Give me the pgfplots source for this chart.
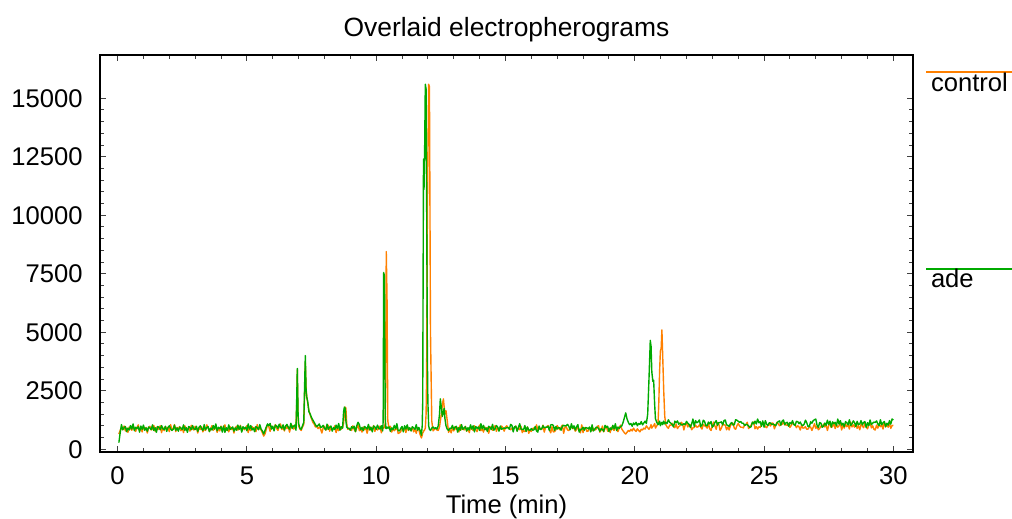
\documentclass[border=0pt]{standalone}
\usepackage{pgfplots}
\usepackage{pgfplotstable}
\pgfplotsset{compat=1.18}
\usepackage{fontspec}
\setmainfont{Liberation Sans}
\definecolor{ctrl}{rgb}{1,0.5,0}
\definecolor{adec}{rgb}{0,0.667,0}
\pgfplotstableread{
t c a
0.05 650 280
0.10 800 700
0.15 930 1050
0.20 830 830
0.25 990 920
0.30 780 970
0.35 900 750
0.40 720 900
0.45 950 820
0.50 880 1010
0.55 810 860
0.60 1010 1080
0.65 850 790
0.70 760 940
0.75 920 880
0.80 1040 960
0.85 800 730
0.90 890 990
0.95 740 850
1.00 960 1030
1.05 840 810
1.10 930 910
1.15 690 770
1.20 910 950
1.25 980 900
1.30 820 840
1.35 860 1040
1.40 1020 800
1.45 770 920
1.50 940 720
1.55 830 970
1.60 890 930
1.65 1000 830
1.70 710 1010
1.75 920 870
1.80 790 840
1.85 970 980
1.90 850 760
1.95 930 930
2.00 750 1000
2.05 1050 870
2.10 840 800
2.15 840 850
2.20 1050 1030
2.25 750 810
2.30 930 910
2.35 850 770
2.40 970 950
2.45 790 900
2.50 920 840
2.55 710 1040
2.60 1000 800
2.65 890 920
2.70 830 720
2.75 940 970
2.80 770 930
2.85 1020 830
2.90 860 1010
2.95 820 870
3.00 980 840
3.05 910 980
3.10 690 760
3.15 930 930
3.20 840 1000
3.25 960 870
3.30 740 800
3.35 890 1050
3.40 800 830
3.45 1040 920
3.50 920 970
3.55 760 750
3.60 850 900
3.65 1010 820
3.70 810 1010
3.75 880 860
3.80 950 1080
3.85 720 790
3.90 900 940
3.95 780 880
4.00 990 960
4.05 830 730
4.10 930 990
4.15 1040 720
4.20 800 920
4.25 890 800
4.30 740 1040
4.35 960 840
4.40 840 900
4.45 930 950
4.50 690 770
4.55 910 910
4.60 980 810
4.65 820 1030
4.70 860 850
4.75 1020 990
4.80 770 730
4.85 940 960
4.90 830 880
4.95 890 940
5.00 1000 790
5.05 710 1080
5.10 920 860
5.15 790 1010
5.20 970 820
5.25 850 900
5.30 930 750
5.35 750 970
5.40 1050 920
5.45 840 830
5.50 930 1050
5.55 820 860
5.60 700 780
5.65 560 650
5.70 650 800
5.75 850 950
5.80 1050 1080
5.85 960 1000
5.90 760 1100
5.95 990 860
6.00 920 980
6.05 850 780
6.10 1050 1030
6.15 890 990
6.20 800 890
6.25 960 1070
6.30 1080 930
6.35 840 900
6.40 930 1040
6.45 780 820
6.50 1000 990
6.55 880 1060
6.60 970 930
6.65 730 860
6.70 950 1110
6.75 1020 890
6.80 860 980
6.85 900 1030
6.90 1060 810
6.93 2000 2300
6.95 3400 3450
6.98 1400 1500
7.00 1000 1100
7.05 860 900
7.10 800 850
7.15 950 1000
7.20 1050 1150
7.23 2200 2600
7.26 3700 4000
7.29 2600 2500
7.32 2200 2200
7.35 2000 2050
7.40 1650 1600
7.45 1450 1500
7.50 1300 1350
7.55 1150 1250
7.60 1080 1150
7.65 950 1050
7.70 1000 960
7.75 880 1020
7.80 950 1080
7.85 860 930
7.90 690 950
7.95 910 1020
8.00 980 890
8.05 820 820
8.10 860 1070
8.15 1020 850
8.20 770 940
8.25 940 990
8.30 830 770
8.35 890 920
8.40 1000 840
8.45 710 1030
8.50 920 880
8.55 790 1100
8.60 970 810
8.65 850 960
8.70 930 900
8.74 1100 1600
8.77 1500 1800
8.80 1800 1750
8.83 1750 1200
8.86 1100 950
8.90 850 900
8.95 900 880
9.00 870 810
9.05 800 960
9.10 1000 900
9.15 840 980
9.20 750 750
9.25 910 1010
9.30 1030 1150
9.35 790 1050
9.40 880 830
9.45 730 930
9.50 950 790
9.55 830 970
9.60 920 920
9.65 680 860
9.70 900 1060
9.75 970 820
9.80 810 940
9.85 850 740
9.90 1010 990
9.95 760 950
10.00 930 850
10.05 820 1030
10.10 880 890
10.15 990 860
10.20 700 1000
10.25 910 780
10.27 880 1200
10.29 900 7550
10.32 950 7400
10.35 1100 1500
10.37 3500 900
10.39 8450 880
10.42 6500 950
10.45 1200 900
10.50 880 950
10.55 980 760
10.60 730 910
10.65 900 830
10.70 790 1020
10.75 850 870
10.80 960 1090
10.85 670 800
10.90 700 780
10.95 750 890
11.00 930 970
11.05 810 740
11.10 890 1000
11.15 710 860
11.20 1010 1040
11.25 800 820
11.30 890 920
11.35 790 780
11.40 950 960
11.45 740 910
11.50 860 850
11.55 680 1050
11.60 910 810
11.65 840 930
11.70 620 800
11.75 480 600
11.78 600 1000
11.80 700 2000
11.83 750 12400
11.85 800 11100
11.87 820 12300
11.90 900 15600
11.93 1500 15400
11.95 3000 11000
11.98 10100 4000
12.00 12500 2000
12.03 15600 1000
12.06 15500 850
12.10 5000 800
12.15 1200 900
12.20 780 950
12.25 850 880
12.30 900 920
12.35 820 860
12.40 800 1000
12.45 950 1500
12.48 1200 2150
12.52 1500 1800
12.56 1900 1400
12.60 2150 1600
12.63 1800 1750
12.66 1500 1300
12.70 1650 1000
12.75 1200 850
12.80 720 800
12.85 850 900
12.90 700 880
12.95 910 1020
13.00 780 840
13.05 960 940
13.10 840 980
13.15 920 730
13.20 740 930
13.25 1040 810
13.30 830 1050
13.35 920 850
13.40 820 910
13.45 980 960
13.50 770 780
13.55 890 920
13.60 710 820
13.65 940 1040
13.70 870 860
13.75 800 1000
13.80 1000 740
13.85 840 970
13.90 750 890
13.95 910 950
14.00 1030 800
14.05 790 1090
14.10 880 870
14.15 730 1020
14.20 950 830
14.25 830 910
14.30 920 760
14.35 680 980
14.40 900 930
14.45 970 840
14.50 810 1060
14.55 850 810
14.60 1010 880
14.65 760 1010
14.70 930 940
14.75 820 770
14.80 880 990
14.85 990 850
14.90 920 880
14.95 770 910
15.00 940 890
15.05 1000 920
15.10 910 930
15.15 880 850
15.20 830 1060
15.25 900 1020
15.30 850 740
15.35 930 960
15.40 990 980
15.45 780 770
15.50 920 930
15.55 830 1090
15.60 980 860
15.65 710 850
15.70 800 840
15.75 750 1010
15.80 790 760
15.85 950 950
15.90 680 820
15.95 810 810
16.00 760 880
16.05 880 810
16.10 910 830
16.15 840 970
16.20 1040 780
16.25 820 730
16.30 890 990
16.35 870 840
16.40 840 870
16.45 1030 1000
16.50 730 910
16.55 920 940
16.60 970 940
16.65 1010 980
16.70 820 800
16.75 700 1040
16.80 960 1050
16.85 740 1020
16.90 750 800
16.95 830 970
17.00 1010 860
17.05 910 920
17.10 830 910
17.15 940 810
17.20 1030 980
17.25 680 1020
17.30 930 990
17.35 960 1010
17.40 820 1060
17.45 800 980
17.50 880 830
17.55 970 1090
17.60 880 890
17.65 920 1000
17.70 770 820
17.75 840 960
17.80 950 1050
17.85 850 730
17.90 700 840
17.95 1040 850
18.00 710 940
18.05 910 810
18.10 920 930
18.15 760 910
18.20 780 870
18.25 920 950
18.30 870 740
18.35 790 1040
18.40 900 780
18.45 820 850
18.50 840 930
18.55 980 940
18.60 1000 880
18.65 730 770
18.70 810 880
18.75 990 840
18.80 740 760
18.85 890 1020
18.90 980 930
18.95 770 980
19.00 890 760
19.05 710 910
19.10 940 830
19.15 870 1020
19.20 800 870
19.25 1000 1090
19.30 840 800
19.35 750 950
19.40 910 890
19.45 1030 970
19.50 860 1000
19.55 780 1150
19.60 700 1350
19.65 650 1550
19.70 720 1300
19.75 800 1150
19.80 760 1050
19.85 850 1100
19.90 780 980
19.95 900 1120
20.00 810 1050
20.05 760 1150
20.10 870 1000
20.15 800 1100
20.20 740 1060
20.25 850 1180
20.30 820 1040
20.35 900 1120
20.40 860 1200
20.45 1000 1100
20.50 920 1500
20.55 850 3000
20.60 950 4650
20.63 1050 4400
20.66 900 3300
20.70 980 2900
20.73 1000 2950
20.77 1100 1900
20.80 900 1300
20.85 1000 1150
20.90 1100 1050
20.93 2000 1100
20.96 3300 1200
20.99 4200 1000
21.02 4300 1100
21.05 5100 1150
21.08 4000 1050
21.12 2500 1200
21.16 1400 1080
21.20 1050 1150
21.25 950 1100
21.30 890 1260
21.35 1030 1150
21.40 1020 1110
21.45 1110 1050
21.50 950 960
21.55 920 1200
21.60 1070 1130
21.65 880 1210
21.70 960 1070
21.75 1010 1120
21.80 1150 1040
21.85 1090 1040
21.90 820 1090
21.95 1040 1050
22.00 1120 1190
22.05 950 1110
22.10 1050 1060
22.15 1040 930
22.20 830 1080
22.25 910 1290
22.30 930 980
22.35 1030 1220
22.40 940 1130
22.45 960 1170
22.50 1040 1250
22.55 940 970
22.60 860 1030
22.65 1060 1240
22.70 1000 1180
22.75 970 1010
22.80 900 1000
22.85 1100 1160
22.90 870 1080
22.95 800 1180
23.00 1000 940
23.05 1160 1010
23.10 990 1140
23.15 850 1220
23.20 1130 1020
23.25 1080 1140
23.30 800 1140
23.35 900 1170
23.40 1060 1040
23.45 1040 1220
23.50 1030 1250
23.55 830 1040
23.60 950 1020
23.65 820 970
23.70 1010 1090
23.75 1070 1140
23.80 1110 1030
23.85 890 1050
23.90 850 1260
23.95 1000 1240
24.00 1100 1190
24.05 1000 1150
24.10 940 1180
24.15 940 1110
24.20 910 1110
24.25 1050 1010
24.30 1040 1060
24.35 1150 1050
24.40 880 1000
24.45 950 930
24.50 1030 960
24.55 1130 1160
24.60 1160 1080
24.65 870 1200
24.70 970 1080
24.75 860 1290
24.80 960 1130
24.85 930 1180
24.90 1040 980
24.95 1120 1210
25.00 1090 940
25.05 960 1220
25.10 920 1070
25.15 1020 1010
25.20 1080 1130
25.25 990 1120
25.30 1120 1050
25.35 1110 1080
25.40 870 1040
25.45 1030 1000
25.50 1150 1120
25.55 1080 1180
25.60 1000 1210
25.65 1040 1030
25.70 1070 1200
25.75 1160 1250
25.80 1040 1050
25.85 1040 1130
25.90 1020 1150
25.95 1100 980
26.00 930 1140
26.05 1010 1080
26.10 1130 1220
26.15 1060 1060
26.20 1050 1010
26.25 920 1190
26.30 1000 1180
26.35 960 1090
26.40 820 1160
26.45 1030 1040
26.50 900 1010
26.55 910 1070
26.60 960 1240
26.65 850 1130
26.70 860 970
26.75 950 960
26.80 950 1170
26.85 800 1110
26.90 940 1220
26.95 1090 1260
27.00 890 1290
27.05 970 1020
27.10 830 930
27.15 880 1140
27.20 990 1110
27.25 940 940
27.30 1070 980
27.35 950 1120
27.40 1040 1020
27.45 800 1240
27.50 1020 1060
27.55 1090 1200
27.60 930 940
27.65 970 1170
27.70 1130 1090
27.75 880 1150
27.80 1050 1000
27.85 940 1290
27.90 1000 1070
27.95 1110 1220
28.00 820 1030
28.05 1030 1110
28.10 900 960
28.15 1080 1180
28.20 960 1130
28.25 1040 1040
28.30 860 1260
28.35 1160 1010
28.40 950 1080
28.45 1040 1210
28.50 940 1140
28.55 1100 970
28.60 890 1190
28.65 1010 1050
28.70 830 1080
28.75 1060 1220
28.80 990 1040
28.85 920 1140
28.90 1120 1180
28.95 960 930
29.00 870 1130
29.05 1030 1010
29.10 1150 1250
29.15 910 1050
29.20 1000 1110
29.25 850 1160
29.30 820 1140
29.35 1030 1210
29.40 900 1080
29.45 1080 1010
29.50 960 1260
29.55 1040 1040
29.60 860 1130
29.65 1160 1180
29.70 950 960
29.75 1040 1110
29.80 940 1030
29.85 1100 1220
29.90 890 1070
29.95 1010 1290
30.00 1020 1250
}\datatable
\begin{document}
\begin{tikzpicture}
\path[use as bounding box] (0,0) rectangle (506bp,259.5bp);
\begin{axis}[
  at={(50bp,33.5bp)}, anchor=south west,
  scale only axis, width=406.5bp, height=198.5bp,
  xmin=-0.68, xmax=30.76, ymin=-120, ymax=16850,
  xtick={0,5,...,30}, ytick={0,2500,5000,7500,10000,12500,15000},
  minor x tick num=4, minor y tick num=4,
  tick align=inside, major tick length=3bp, minor tick length=2bp,
  axis line style={line width=0.6pt},
  tick style={line width=0.5pt, black!75},
  scaled y ticks=false,
  /pgf/number format/.cd, set thousands separator={}, assume math mode=true,
  /pgfplots/.cd,
  tick label style={font=\fontsize{12.8bp}{15bp}\selectfont},
  xticklabel style={anchor=base, yshift=-16bp},
  yticklabel style={anchor=east, inner sep=0pt, xshift=-8.5bp},
  title={Overlaid electropherograms},
  title style={font=\fontsize{13.2bp}{15bp}\selectfont, at={(0.5,1)}, anchor=base, yshift=3.5bp, inner sep=0pt},
  xlabel={Time (min)},
  xlabel style={font=\fontsize{12.8bp}{15bp}\selectfont, at={(0.5,0)}, anchor=base, yshift=-30.5bp, inner sep=0pt},
  every axis plot/.append style={line width=0.7pt, line join=round},
]
\addplot[ctrl] table[x=t, y=c] {\datatable};
\addplot[adec] table[x=t, y=a] {\datatable};
\end{axis}
\draw[ctrl, line width=0.6pt] (463bp,223.5bp) -- (506bp,223.5bp);
\node[anchor=base west, inner sep=0pt, font=\fontsize{12.8bp}{15bp}\selectfont] at (465.3bp,213.6bp) {control};
\draw[adec, line width=0.6pt] (463bp,125bp) -- (506bp,125bp);
\node[anchor=base west, inner sep=0pt, font=\fontsize{12.8bp}{15bp}\selectfont] at (465.3bp,115.5bp) {ade};
\end{tikzpicture}
\end{document}
